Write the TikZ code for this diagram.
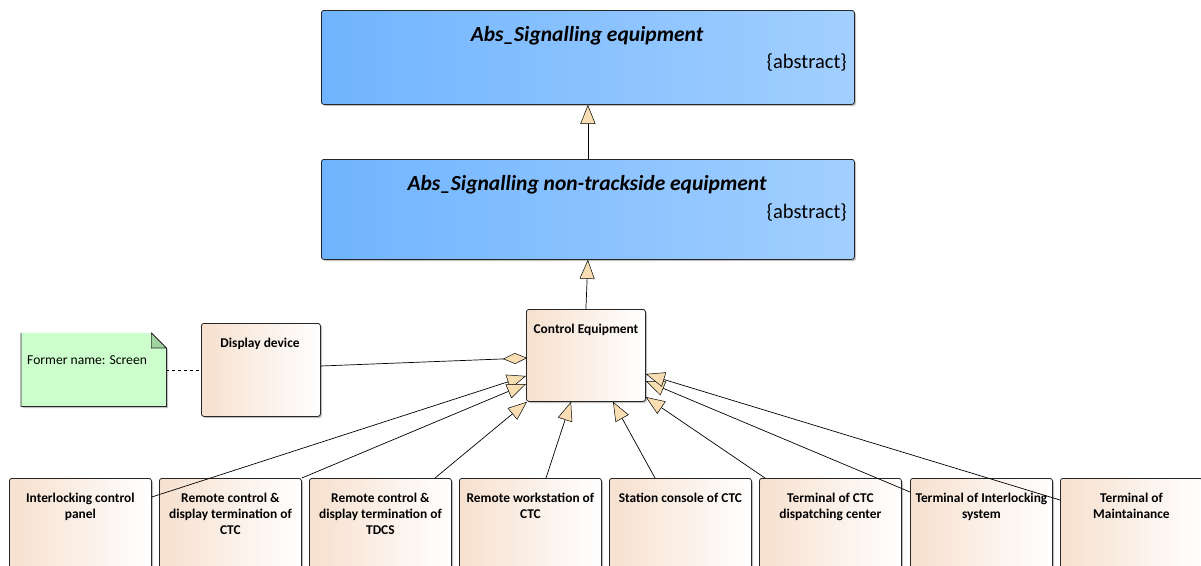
\documentclass[tikz,border=0pt]{standalone}
\usepackage{fontspec}
\setmainfont{Carlito}
\usetikzlibrary{shadows,arrows.meta,calc}
\definecolor{blueL}{RGB}{112,180,255}
\definecolor{blueR}{RGB}{162,207,255}
\definecolor{beigeL}{RGB}{247,224,206}
\definecolor{triFill}{RGB}{248,222,178}
\definecolor{noteFill}{RGB}{204,255,204}
\definecolor{noteFold}{RGB}{160,210,160}
\tikzset{
  shd/.style={drop shadow={shadow xshift=1.6pt, shadow yshift=-1.6pt, fill=black!40, opacity=0.6}},
  absbox/.style={draw=black!85, line width=0.8pt, rounded corners=2.5pt, left color=blueL, right color=blueR, shd, anchor=north west, inner sep=0pt},
  clsbox/.style={draw=black!85, line width=0.8pt, rounded corners=2.5pt, left color=beigeL, right color=white, shd, anchor=north west, inner sep=0pt},
  clstext/.style={font=\bfseries\fontsize{13.4}{16}\selectfont, align=center, anchor=north, inner sep=0pt},
  abstitle/.style={font=\bfseries\itshape\fontsize{21.5}{24}\selectfont, anchor=center, inner sep=0pt},
  absnote/.style={font=\fontsize{20.5}{23}\selectfont, anchor=east, inner sep=0pt},
  gen/.style={draw=black, line width=0.7pt, -{Triangle[fill=triFill, length=19pt, width=15pt, line width=0.5pt]}},
  agg/.style={draw=black, line width=0.7pt, -{Diamond[fill=triFill, length=24pt, width=11pt, line width=0.5pt]}},
}
\begin{document}
\begin{tikzpicture}[x=1pt,y=-1pt]
\useasboundingbox (0,0) rectangle (1201,565);
\clip (0,0) rectangle (1201,565);
% abstract boxes
\node[absbox, minimum width=533, minimum height=94] (abs1) at (321,10) {};
\node[abstitle] (abs1t) at (587,36) {Abs\_Signalling equipment};
\node[absnote] (abs1a) at (847,62) {\{abstract\}};
\node[absbox, minimum width=533, minimum height=100] (abs2) at (321,159) {};
\node[abstitle] (abs2t) at (587,185) {Abs\_Signalling non-trackside equipment};
\node[absnote] (abs2a) at (847,212) {\{abstract\}};
% control equipment
\node[clsbox, minimum width=119, minimum height=92] (ce) at (526,309) {};
\node[clstext] (cet) at (586,324) {Control Equipment};
% display device
\node[clsbox, minimum width=119, minimum height=93] (dd) at (201,323) {};
\node[clstext] (ddt) at (260,338) {Display device};
% note
\node[minimum width=145, minimum height=73, anchor=north west, inner sep=0pt] (note) at (21,333) {};
\fill[black!40, opacity=0.6] ($(note.north west)+(1.6,1.6)$) -- ($(note.north east)+(-13.4,1.6)$) -- ($(note.north east)+(1.6,16.6)$) -- ($(note.south east)+(1.6,1.6)$) -- ($(note.south west)+(1.6,1.6)$) -- cycle;
\fill[noteFill] (note.north west) -- ($(note.north east)+(-15,0)$) -- ($(note.north east)+(0,15)$) -- (note.south east) -- (note.south west) -- cycle;
\draw[black!85, line width=0.8pt] (note.north west) -- (note.south west) -- (note.south east) -- ($(note.north east)+(0,15)$) -- ($(note.north east)+(-15,0)$);
\filldraw[fill=noteFold, draw=black!85, line width=0.6pt] ($(note.north east)+(-15,0)$) -- ($(note.north east)+(-15,15)$) -- ($(note.north east)+(0,15)$) -- cycle;
\node[font=\fontsize{13.6}{16}\selectfont, anchor=west, inner sep=0pt] (notet) at (27,360) {Former name: Screen};
% bottom boxes
\foreach \n/\x/\t in {b1/9/{Interlocking control\\panel},
                       b2/159/{Remote control \&\\display termination of\\CTC},
                       b3/309/{Remote control \&\\display termination of\\TDCS},
                       b4/459/{Remote workstation of\\CTC},
                       b5/609/{Station console of CTC},
                       b6/759/{Terminal of CTC\\dispatching center},
                       b7/910/{Terminal of Interlocking\\system},
                       b8/1060/{Terminal of\\Maintainance}} {
  \node[clsbox, minimum width=142, minimum height=110] (\n) at (\x,478) {};
  \node[clstext] (\n t) at ($(\n.north)+(0,15)$) {\t};
}
% connectors
\draw[gen] (abs2.north) -- (abs1.south);
\draw[gen] (ce.north) -- (abs2.south);
\draw[dashed, line width=0.7pt] (note.east |- 0,370) -- (dd.west |- 0,370);
\draw[agg] ($(dd.north east)+(0,43)$) -- ($(ce.north west)+(1,49)$);
\draw[gen] ($(b1.north east)+(0,19)$) -- ($(ce.north west)+(0,67)$);
\draw[gen] (b2.north east) -- ($(ce.north west)+(0,75)$);
\draw[gen] ($(b3.north west)+(126,0)$) -- ($(ce.south west)+(1,0)$);
\draw[gen] ($(b4.north west)+(87,0)$) -- ($(ce.south west)+(45,0)$);
\draw[gen] ($(b5.north west)+(46,0)$) -- ($(ce.south west)+(87,0)$);
\draw[gen] ($(b6.north west)+(6,0)$) -- ($(ce.north east)+(0,88)$);
\draw[gen] ($(b7.north west)+(0,14)$) -- ($(ce.north east)+(0,72)$);
\draw[gen] ($(b8.north west)+(0,22)$) -- ($(ce.north east)+(0,65)$);
\end{tikzpicture}
\end{document}
